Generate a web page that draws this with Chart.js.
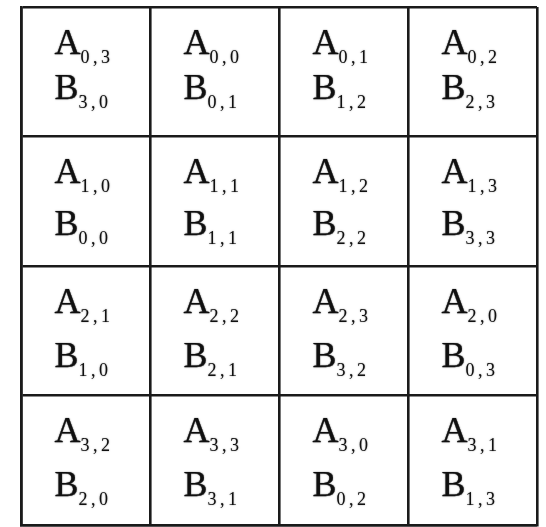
<!DOCTYPE html>
<html>
<head>
<meta charset="utf-8">
<script src="https://cdn.jsdelivr.net/npm/chart.js@4"></script>
<style>
  body { margin: 0; background: #fff; font-family: "Liberation Serif", "Times New Roman", serif; }
  canvas { display: block; }
</style>
</head>
<body>
<canvas id="grid" width="546" height="527"></canvas>
<script>
// subscripts of A and B in each cell, row by row
const rows = [0, 1, 2, 3];
const cols = [0, 1, 2, 3];
const aIdx = [
  ["0,3", "0,0", "0,1", "0,2"],
  ["1,0", "1,1", "1,2", "1,3"],
  ["2,1", "2,2", "2,3", "2,0"],
  ["3,2", "3,3", "3,0", "3,1"]
];
const bIdx = [
  ["3,0", "0,1", "1,2", "2,3"],
  ["0,0", "1,1", "2,2", "3,3"],
  ["1,0", "2,1", "3,2", "0,3"],
  ["2,0", "3,1", "0,2", "1,3"]
];

let cells = [];
rows.forEach(r => {
  cols.forEach(c => {
    cells.push({ x: c + 0.5, y: r + 0.5, a: aIdx[r][c], b: bIdx[r][c], row: r });
  });
});

// line gap between the A and B line, per row
const lineGap = [45, 52, 54, 54];
const serif = '"Liberation Serif", "Times New Roman", serif';

const cellText = {
  id: 'cellText',
  afterDatasetsDraw(chart) {
    const ctx = chart.ctx;
    const meta = chart.getDatasetMeta(0);
    ctx.save();
    ctx.fillStyle = '#111';
    ctx.strokeStyle = '#111';
    ctx.shadowColor = 'rgba(0,0,0,0.5)';
    ctx.shadowBlur = 1.5;
    ctx.textBaseline = 'alphabetic';
    ctx.textAlign = 'left';
    meta.data.forEach((pt, i) => {
      const d = cells[i];
      const left = pt.x - 31;
      const yA = pt.y - 18;
      const yB = yA + lineGap[d.row];
      [["A", d.a, yA], ["B", d.b, yB]].forEach(([letter, sub, y]) => {
        ctx.font = '36px ' + serif;
        ctx.letterSpacing = '0px';
        ctx.lineWidth = 0.25;
        ctx.fillText(letter, left, y);
        ctx.strokeText(letter, left, y);
        const w = ctx.measureText(letter).width;
        ctx.font = '18px ' + serif;
        ctx.letterSpacing = '3.5px';
        ctx.fillText(sub, left + w, y + 9);
      });
    });
    ctx.restore();
  }
};

const axis = {
  type: 'linear',
  min: 0,
  max: 4,
  ticks: { display: false, stepSize: 1 },
  grid: { color: '#1a1a1a', lineWidth: 2.6, drawTicks: false },
  border: { display: true, color: '#1a1a1a', width: 2.6 }
};

function draw() {
  new Chart(document.getElementById("grid"), {
    type: 'scatter',
    data: {
      datasets: [{
        data: cells,
        pointRadius: 0,
        pointHoverRadius: 0
      }]
    },
    options: {
      responsive: false,
      animation: false,
      layout: { padding: { left: 21, right: 9, top: 7, bottom: 2 } },
      plugins: { legend: { display: false }, tooltip: { enabled: false } },
      scales: {
        x: axis,
        y: Object.assign({}, axis, { reverse: true })
      }
    },
    plugins: [cellText]
  });
}

Promise.all([
  document.fonts.load('36px "Liberation Serif"'),
  document.fonts.load('18px "Liberation Serif"')
]).then(draw, draw);
</script>
</body>
</html>
